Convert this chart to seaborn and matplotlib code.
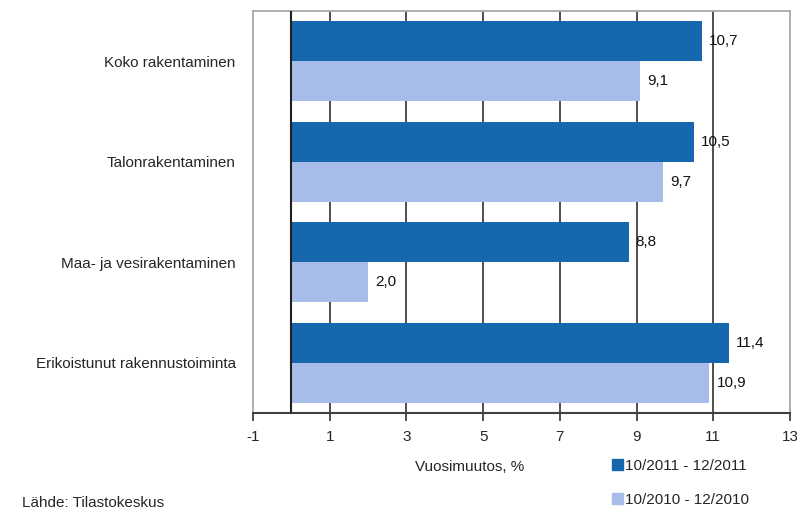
import matplotlib
matplotlib.use("Agg")
import matplotlib.pyplot as plt
import numpy as np
import pandas as pd
import seaborn as sns

categories = [
    "Koko rakentaminen",
    "Talonrakentaminen",
    "Maa- ja vesirakentaminen",
    "Erikoistunut rakennustoiminta",
]
series = ["10/2011 - 12/2011", "10/2010 - 12/2010"]
values_2011 = [10.7, 10.5, 8.8, 11.4]
values_2010 = [9.1, 9.7, 2.0, 10.9]
colors = ["#1767AF", "#A7BCE8"]

df = pd.DataFrame({
    "kategoria": categories * 2,
    "jakso": [series[0]] * 4 + [series[1]] * 4,
    "muutos": values_2011 + values_2010,
})

sns.set_style("white")
plt.rcParams["font.family"] = ["Liberation Sans", "DejaVu Sans"]
plt.rcParams["font.size"] = 11

fig = plt.figure(figsize=(7.97, 5.12), dpi=100)
ax = fig.add_axes([253 / 797, 1 - 413 / 512, 537 / 797, 402 / 512])

for x in [1, 3, 5, 7, 9, 11]:
    ax.axvline(x, color="#404040", lw=1.3, zorder=0)
ax.axvline(0, color="#202020", lw=1.5, zorder=3)

sns.barplot(
    data=df, y="kategoria", x="muutos", hue="jakso", order=categories,
    hue_order=series, palette=colors, orient="h", width=0.8,
    saturation=1, edgecolor="none", ax=ax, legend=False, zorder=2,
)

for cont in ax.containers:
    ax.bar_label(cont, labels=[f"{b.get_width():.1f}".replace(".", ",") for b in cont],
                 padding=5, fontsize=11, color="#111111")

ax.set_xlim(-1, 13)
ax.set_ylim(3.5, -0.5)
ax.set_xticks(np.arange(-1, 14, 2))
ax.set_xticklabels([str(t) for t in range(-1, 14, 2)])
ax.set_xlabel("")
ax.set_ylabel("")
ax.tick_params(axis="x", bottom=True, length=6, width=1.3, color="#404040", pad=6)
ax.tick_params(axis="y", left=False, pad=9)

for s in ["left", "top", "right"]:
    ax.spines[s].set_color("#a8a8a8")
    ax.spines[s].set_linewidth(1.3)
ax.spines["bottom"].set_color("#404040")
ax.spines["bottom"].set_linewidth(1.5)

fig.text(470 / 797, 1 - 467 / 512, "Vuosimuutos, %", ha="center", va="center", fontsize=11)
fig.text(22 / 797, 1 - 503 / 512, "Lähde: Tilastokeskus", ha="left", va="center", fontsize=11)

handles = [plt.Rectangle((0, 0), 1, 1, color=c) for c in colors]
fig.legend(handles, series, loc="upper left", bbox_to_anchor=(612 / 797, 1 - 459 / 512),
           frameon=False, handlelength=0.7, handleheight=0.7, handletextpad=0.15,
           labelspacing=1.3, fontsize=11, borderaxespad=0, borderpad=0)

fig.savefig("out.png", dpi=100)
